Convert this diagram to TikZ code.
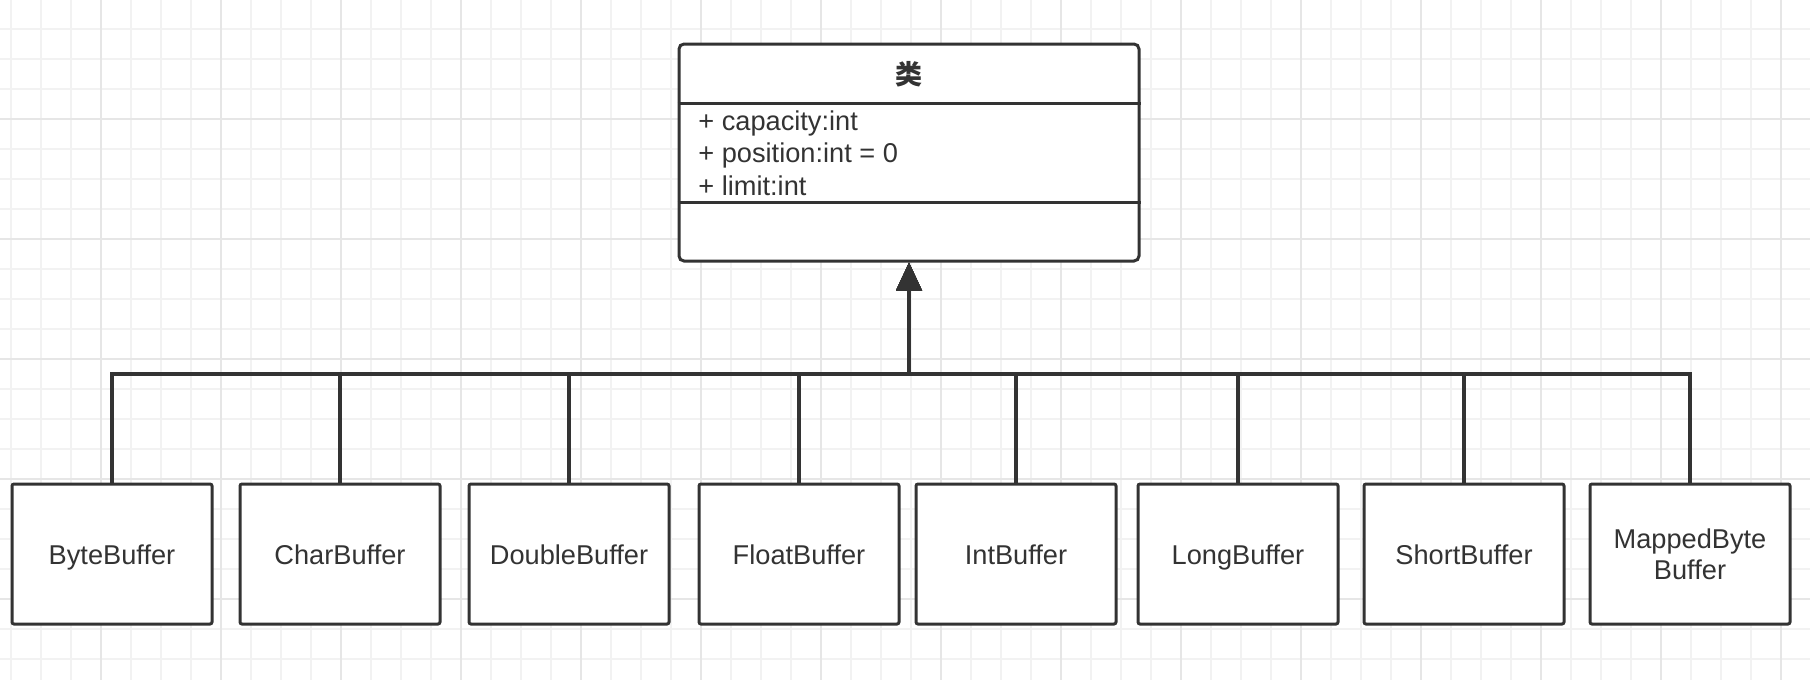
\documentclass[tikz,border=0pt]{standalone}
\usepackage{fontspec}
\setmainfont{Liberation Sans}
\newfontfamily\cjk{Noto Sans CJK SC}
\usetikzlibrary{arrows.meta}
\definecolor{ink}{HTML}{333333}
\definecolor{gridlo}{HTML}{F2F2F2}
\definecolor{gridhi}{HTML}{E6E6E6}
\newcommand\boxtop{\rule{0pt}{13.5pt}}
\newcommand\boxbot{\rule[-3.5pt]{0pt}{3.5pt}}
\tikzset{
  >={Triangle[width=12.5pt,length=14pt]},
  gridminor/.style={gridlo, line width=0.8pt},
  gridmajor/.style={gridhi, line width=0.8pt},
  clsbox/.style={draw=ink, line width=1.5pt, fill=white, rounded corners=2.5pt,
    minimum width=230pt, minimum height=108.5pt, inner sep=0pt},
  sep/.style={draw=ink, line width=1.5pt},
  subbox/.style={draw=ink, line width=1.5pt, fill=white, rounded corners=1pt,
    minimum width=100pt, minimum height=70pt, align=center, text=ink,
    font=\fontsize{13.6}{15.5}\selectfont},
  inherit/.style={draw=ink, line width=1.8pt, ->}
}

\begin{document}
\begin{tikzpicture}[x=0.5pt, y=-0.5pt]
    \useasboundingbox (0,0) rectangle (1810,680);
    \fill[white] (0,0) rectangle (1810,680);
    % background grid
    \foreach \gx in {11,41,...,1810} \draw[gridminor] (\gx,0) -- (\gx,680);
    \foreach \gy in {29,59,...,680} \draw[gridminor] (0,\gy) -- (1810,\gy);
    \foreach \gx in {101,221,...,1810} \draw[gridmajor] (\gx,0) -- (\gx,680);
    \foreach \gy in {119,239,...,680} \draw[gridmajor] (0,\gy) -- (1810,\gy);

    % parent class
    \node[clsbox] (cls) at (909,152.5) {};
    \draw[sep] (cls.west |- 0,103) -- (cls.east |- 0,103);
    \draw[sep] (cls.west |- 0,202) -- (cls.east |- 0,202);
    \node[text=ink, font=\cjk\bfseries\fontsize{13.5}{15}\selectfont] (title) at (909,74) {类};
    \node[anchor=west, inner sep=0pt, align=left, text=ink,
      font=\fontsize{13.6}{16.2}\selectfont] (attrs) at (698,153)
      {+ capacity:int\\+ position:int = 0\\+ limit:int};

    % subclasses
    \coordinate (bus) at (909,374);
    \foreach \x/\txt [count=\i] in {112/ByteBuffer, 340/CharBuffer, 569/DoubleBuffer,
        799/FloatBuffer, 1016/IntBuffer, 1238/LongBuffer, 1464/ShortBuffer,
        1690/{MappedByte\\Buffer}} {
      \node[subbox] (sub\i) at (\x,554) {\boxtop\txt\boxbot};
      \draw[inherit] (sub\i.north) |- (bus) -- (cls.south);
    }
\end{tikzpicture}
\end{document}
